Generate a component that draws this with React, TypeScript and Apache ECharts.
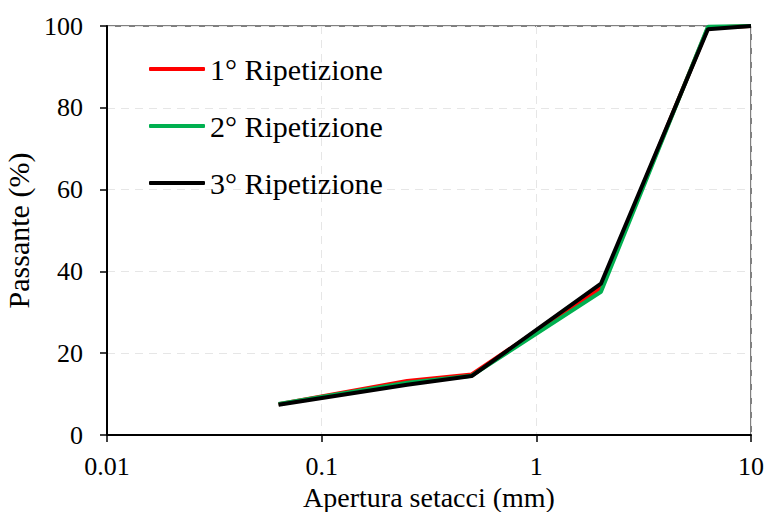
import React, { useEffect, useRef } from "react";
import * as echarts from "echarts";

const sieveSizes = [0.063, 0.25, 0.5, 2, 6.3, 10];
const rep1 = [7.5, 13.2, 14.8, 36.0, 99.6, 100];
const rep2 = [7.6, 12.8, 14.5, 35.0, 99.8, 100];
const rep3 = [7.4, 12.3, 14.4, 37.0, 99.2, 100];
const seriesNames = ["1° Ripetizione", "2° Ripetizione", "3° Ripetizione"];
const seriesColors = ["#ff0000", "#00b050", "#000000"];
const yTicks = { min: 0, max: 100, interval: 20 };
const xRange = { min: 0.01, max: 10 };

const FONT = '"Liberation Serif", "Times New Roman", serif';

export default function App() {
  const ref = useRef<HTMLDivElement>(null);
  useEffect(() => {
    if (!ref.current) return;
    const chart = echarts.init(ref.current, null, { renderer: "svg" });
    const allData = [rep1, rep2, rep3];
    chart.setOption({
      animation: false,
      textStyle: { fontFamily: FONT, color: "#000" },
      grid: {
        left: 107,
        right: 17,
        top: 26,
        bottom: 77,
        show: true,
        borderColor: "#000",
        borderWidth: 1,
        containLabel: false,
        outerBoundsMode: "none",
      },
      legend: {
        left: 144,
        top: 49,
        orient: "vertical",
        icon: "roundRect",
        itemWidth: 56,
        itemHeight: 4,
        itemGap: 27,
        textStyle: { fontFamily: FONT, fontSize: 30, color: "#000" },
        data: seriesNames,
      },
      xAxis: {
        type: "log",
        logBase: 10,
        min: xRange.min,
        max: xRange.max,
        name: "Apertura setacci (mm)",
        nameLocation: "middle",
        nameGap: 40,
        nameTextStyle: { fontFamily: FONT, fontSize: 28, color: "#000" },
        axisLine: { lineStyle: { color: "#000", width: 2 } },
        axisTick: { show: true, inside: false, length: 7, lineStyle: { color: "#000", width: 1.5 } },
        axisLabel: {
          fontFamily: FONT,
          fontSize: 26,
          color: "#000",
          margin: 18,
          formatter: (v: number) => String(Number(v.toPrecision(3))),
        },
        splitLine: { show: true, lineStyle: { color: "#e6e6e6", type: [8, 6], width: 1 } },
      },
      yAxis: {
        type: "value",
        min: yTicks.min,
        max: yTicks.max,
        interval: yTicks.interval,
        name: "Passante (%)",
        nameLocation: "middle",
        nameGap: 66,
        nameRotate: 90,
        nameTextStyle: { fontFamily: FONT, fontSize: 30, color: "#000" },
        axisLine: { show: true, lineStyle: { color: "#000", width: 2 } },
        axisTick: { show: true, inside: false, length: 7, lineStyle: { color: "#000", width: 1.5 } },
        axisLabel: { fontFamily: FONT, fontSize: 26, color: "#000", margin: 24 },
        splitLine: { show: true, lineStyle: { color: "#e6e6e6", type: [8, 6], width: 1 } },
      },
      series: seriesNames.map((name, i) => ({
        name,
        type: "line",
        data: sieveSizes.map((x, j) => [x, allData[i][j]]),
        symbol: "none",
        lineStyle: { color: seriesColors[i], width: 4 },
        itemStyle: { color: seriesColors[i] },
        z: 2 + i,
      })),
    });
    return () => chart.dispose();
  }, []);
  return <div ref={ref} style={{ width: 768, height: 512, position: "absolute", left: 0, top: 0, background: "#fff" }} />;
}
